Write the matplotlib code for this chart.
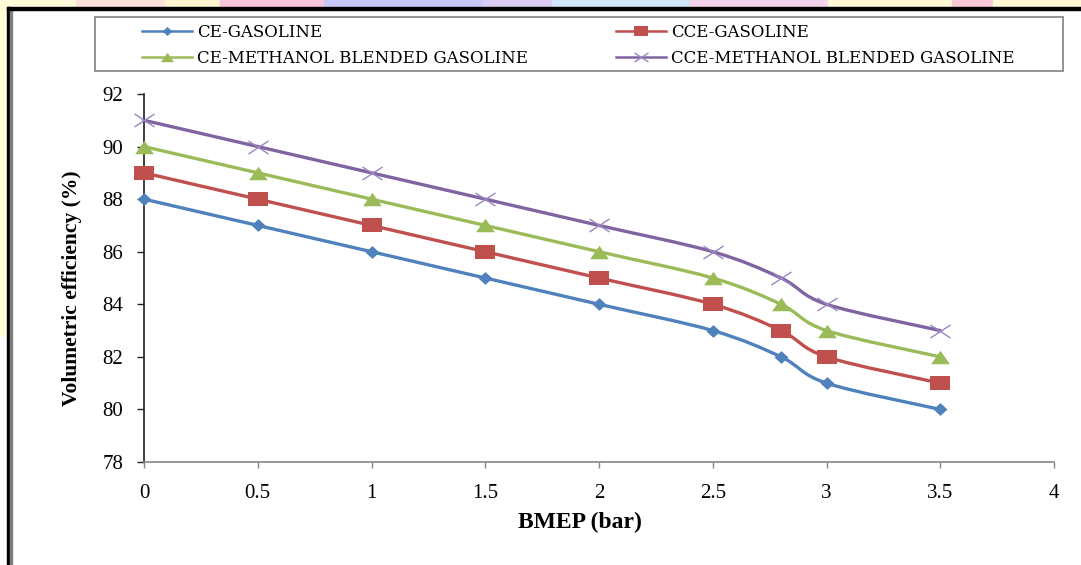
import numpy as np
import matplotlib
matplotlib.use('Agg')
import matplotlib.pyplot as plt
from matplotlib.path import Path
from matplotlib.patches import PathPatch, Rectangle
from matplotlib.ticker import FormatStrFormatter, MultipleLocator

# data
bmep = [0, 0.5, 1, 1.5, 2, 2.5, 2.8, 3, 3.5]
ce_gasoline = [88, 87, 86, 85, 84, 83, 82, 81, 80]
cce_gasoline = [89, 88, 87, 86, 85, 84, 83, 82, 81]
ce_methanol = [90, 89, 88, 87, 86, 85, 84, 83, 82]
cce_methanol = [91, 90, 89, 88, 87, 86, 85, 84, 83]
labels = ['CE-GASOLINE', 'CCE-GASOLINE',
          'CE-METHANOL BLENDED GASOLINE', 'CCE-METHANOL BLENDED GASOLINE']
colors = ['#4F81BD', '#C0504D', '#9BBB59', '#8064A2']

W, H = 1081, 565
fig = plt.figure(figsize=(W / 100, H / 100), dpi=100)

# slide decoration behind the chart
fig.patches.append(Rectangle((0, 0), 8 / W, 1, transform=fig.transFigure,
                             color='#FFFFDC', zorder=-5))
fig.patches.append(Rectangle((0, 0), 8 / W, (565 - 337) / H, transform=fig.transFigure,
                             color='white', zorder=-4))
strip = [(0, 76, '#FFFAD8'), (76, 165, '#FCE0DC'), (165, 220, '#FFF6D0'),
         (220, 324, '#F8C4DC'), (324, 483, '#C8C8F8'), (483, 552, '#DCCCF4'),
         (552, 690, '#D0E6FC'), (690, 828, '#F4D4EC'), (828, 952, '#FFF8D4'),
         (952, 993, '#F8C8D8'), (993, 1081, '#FFF8D4')]
for x0, x1, c in strip:
    fig.patches.append(Rectangle((x0 / W, 1 - 8 / H), (x1 - x0) / W, 8 / H,
                                 transform=fig.transFigure, color=c, zorder=-5))
# black frame
fig.patches.append(Rectangle((7 / W, 0), 3 / W, (565 - 7) / H, transform=fig.transFigure,
                             color='black', zorder=-3))
fig.patches.append(Rectangle((10 / W, 0), 2 / W, (565 - 10) / H, transform=fig.transFigure,
                             color='#808080', zorder=-3))
fig.patches.append(Rectangle((7 / W, 1 - 10 / H), (W - 7) / W, 3 / H, transform=fig.transFigure,
                             color='black', zorder=-3))

ax = fig.add_axes([144 / W, 1 - 462 / H, 910 / W, 368 / H])
ax.patch.set_alpha(0)


def smooth_path(xs, ys):
    pts = np.column_stack([xs, ys]).astype(float)
    n = len(pts)
    verts = [pts[0]]
    codes = [Path.MOVETO]
    for i in range(n - 1):
        p_prev = pts[max(i - 1, 0)]
        p0 = pts[i]
        p1 = pts[i + 1]
        p_next = pts[min(i + 2, n - 1)]
        c1 = p0 + (p1 - p_prev) / 6
        c2 = p1 - (p_next - p0) / 6
        verts += [c1, c2, p1]
        codes += [Path.CURVE4] * 3
    return Path(verts, codes)


m_diamond = [(-1, 0), (0, 0.92), (1, 0), (0, -0.92)]
m_square = [(-1, -0.7), (1, -0.7), (1, 0.7), (-1, 0.7)]
m_triangle = [(-1, -0.72), (1, -0.72), (0, 0.72)]
m_cross = Path([(-1, -0.65), (1, 0.65), (-1, 0.65), (1, -0.65)],
               [Path.MOVETO, Path.LINETO, Path.MOVETO, Path.LINETO])
markers = [(m_diamond, 10, 0), (m_square, 14.4, 0), (m_triangle, 13.5, 0), (m_cross, 14.4, 1.0)]

series = [ce_gasoline, cce_gasoline, ce_methanol, cce_methanol]
handles = []
for ys, c, lab, (mk, ms, mew) in zip(series, colors, labels, markers):
    ax.add_patch(PathPatch(smooth_path(bmep, ys), facecolor='none', edgecolor=c,
                           lw=2.4, capstyle='round', joinstyle='round', zorder=2,
                           clip_on=False))
    if mew:
        ax.plot(bmep, ys, linestyle='none', marker=mk, ms=ms, mec='#9A86C0',
                mew=mew, zorder=3, clip_on=False)
    else:
        ax.plot(bmep, ys, linestyle='none', marker=mk, ms=ms, mfc=c, mec=c,
                mew=0, zorder=3, clip_on=False)
    lh, = ax.plot([], [], color=c, lw=1.8, marker=mk, ms=ms * 0.7,
                  mfc=c if not mew else 'none', mec=c if not mew else '#9A86C0',
                  mew=mew if mew else 0)
    handles.append(lh)

ax.set_xlim(0, 4)
ax.set_ylim(78, 92)
ax.xaxis.set_major_locator(MultipleLocator(0.5))
ax.yaxis.set_major_locator(MultipleLocator(2))
ax.xaxis.set_major_formatter(FormatStrFormatter('%g'))
for s in ['top', 'right']:
    ax.spines[s].set_visible(False)
ax.spines['left'].set_color('#202020')
ax.spines['bottom'].set_color('#868686')
ax.spines['left'].set_linewidth(1.2)
ax.spines['bottom'].set_linewidth(1.2)
ax.tick_params(axis='y', direction='out', length=5, width=1, color='#202020', pad=10)
ax.tick_params(axis='x', direction='out', length=4, width=1, color='#868686', pad=12)
for t in ax.get_xticklabels() + ax.get_yticklabels():
    t.set_fontfamily('Liberation Serif')
    t.set_fontsize(15)

fig.text(580 / W, 1 - 522 / H, 'BMEP (bar)', ha='center', va='center',
         fontfamily='Liberation Serif', fontweight='bold', fontsize=17)
fig.text(72 / W, 1 - 288 / H, 'Volumetric efficiency (%)', ha='center', va='center',
         rotation=90, fontfamily='Liberation Serif', fontweight='bold', fontsize=15.5)

# legend box, filled row by row like the original
fig.patches.append(Rectangle((95 / W, 1 - 71 / H), (1063 - 95) / W, 54 / H,
                             transform=fig.transFigure, facecolor='white',
                             edgecolor='#808080', lw=1.2, zorder=1))
order = [0, 2, 1, 3]
leg = fig.legend([handles[i] for i in order], [labels[i] for i in order], ncol=2,
                 loc='upper left', bbox_to_anchor=(142 / W, 1 - 24 / H), frameon=False,
                 prop={'family': 'DejaVu Serif', 'size': 12},
                 handlelength=3.0, handletextpad=0.3, columnspacing=5.3,
                 labelspacing=0.55, borderpad=0, borderaxespad=0)
leg.set_zorder(2)

fig.savefig('out.png', dpi=100)
